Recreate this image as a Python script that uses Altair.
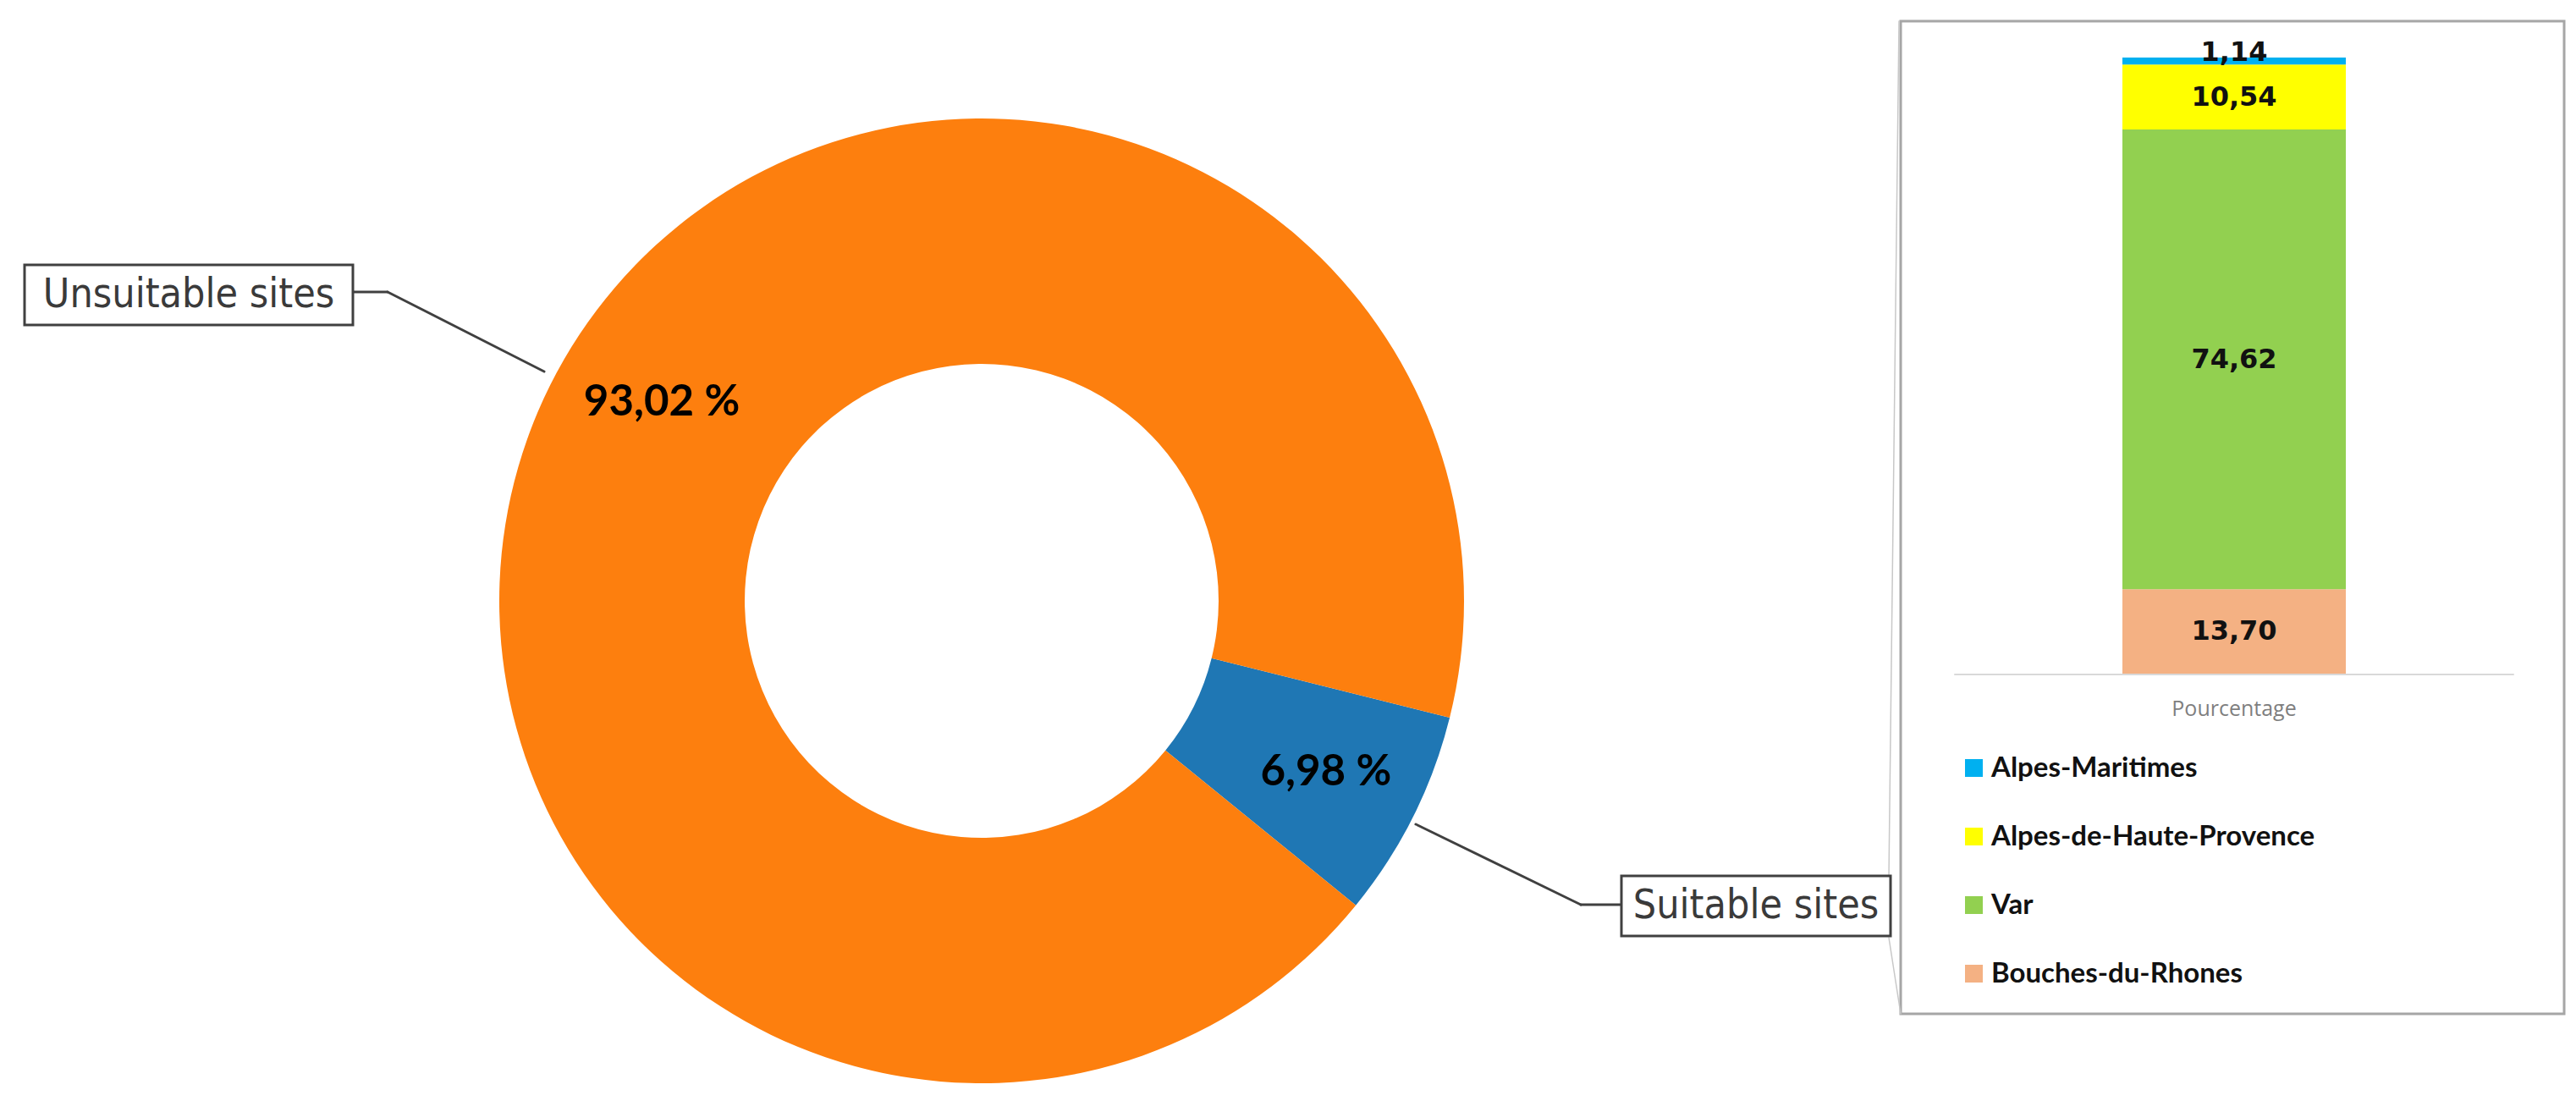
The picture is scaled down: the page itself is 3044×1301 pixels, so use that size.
import math
import altair as alt
import pandas as pd

# ---------------- data ----------------
donut_names = ["Suitable sites", "Unsuitable sites"]
donut_values = [6.98, 93.02]
donut_colors = ["#1F77B4", "#FD7F0E"]

bar_names = ["Bouches-du-Rhones", "Var", "Alpes-de-Haute-Provence", "Alpes-Maritimes"]
bar_values = [13.70, 74.62, 10.54, 1.14]
legend_order = ["Alpes-Maritimes", "Alpes-de-Haute-Provence", "Var", "Bouches-du-Rhones"]
legend_colors = ["#00B0F0", "#FFFF00", "#92D050", "#F4B183"]
axis_label = "Pourcentage"


def fr(v, pct=False):
    s = f"{v:.2f}".replace(".", ",")
    return s + " %" if pct else s


donut_df = pd.DataFrame({
    "name": donut_names,
    "value": donut_values,
    "order": list(range(len(donut_names))),
    "label": [fr(v, True) for v in donut_values],
})
bar_df = pd.DataFrame({
    "name": bar_names,
    "value": bar_values,
    "order": list(range(len(bar_names))),
    "label": [fr(v) for v in bar_values],
})
one = pd.DataFrame({"k": [0]})

M = 8  # page margin
W, H = 3044 - 2 * M, 1301 - 2 * M


def px(v):
    return alt.value(v - M)


# ---------------- donut ----------------
a0 = math.radians(104)
theta = alt.Theta("value:Q", stack=True,
                  scale=alt.Scale(domain=[0, 100], range=[a0, a0 + 2 * math.pi]))
cx, cy = 1160, 710

donut = alt.Chart(donut_df).mark_arc(outerRadius=570, innerRadius=280).encode(
    theta=theta,
    fill=alt.Fill("name:N", scale=alt.Scale(domain=donut_names, range=donut_colors), legend=None),
    order=alt.Order("order:Q"),
    x=px(cx), y=px(cy),
)
label_style = dict(radius=455, font="Lato", fontSize=51, fontWeight="bold", color="#000000",
                   baseline="middle")
donut_text_s = alt.Chart(donut_df).mark_text(**label_style).encode(
    theta=theta, order=alt.Order("order:Q"),
    text=alt.condition("datum.value < 50", "label:N", alt.value("")),
    x=px(cx), y=px(cy),
)
donut_text_u = alt.Chart(donut_df).mark_text(dx=29, dy=-31, **label_style).encode(
    theta=theta, order=alt.Order("order:Q"),
    text=alt.condition("datum.value >= 50", "label:N", alt.value("")),
    x=px(cx), y=px(cy),
)


# ---------------- helpers for annotations ----------------
def rule(x1, y1, x2, y2, color, width):
    return alt.Chart(one).mark_rule(color=color, strokeWidth=width, strokeCap="round").encode(
        x=px(x1), y=px(y1), x2=px(x2), y2=px(y2))


def box(x1, y1, x2, y2, stroke, sw):
    return alt.Chart(one).mark_rect(fill="white", stroke=stroke, strokeWidth=sw).encode(
        x=px(x1), y=px(y1), x2=px(x2), y2=px(y2))


def label(x, y, text, **kw):
    return alt.Chart(one).mark_text(**kw).encode(x=px(x), y=px(y), text=alt.value(text))


lead = "#404040"
box_font = "DejaVu Sans Condensed, Roboto, sans-serif"

panel = box(2246, 25, 3030, 1198, "#A6A6A6", 3)
conn1 = rule(2244, 25, 2232, 1036, "#C8C8C8", 1.5)
conn2 = rule(2232, 1108, 2246, 1198, "#C8C8C8", 1.5)

lead_u1 = rule(417, 345, 458, 345, lead, 3)
lead_u2 = rule(458, 345, 643, 439, lead, 3)
lead_s1 = rule(1673, 974, 1868, 1069, lead, 3)
lead_s2 = rule(1868, 1069, 1916, 1069, lead, 3)

box_u = box(29, 313, 417, 384, lead, 3)
txt_u = label(223, 349, "Unsuitable sites", font=box_font, fontSize=48, color="#3A3A3A",
              align="center", baseline="middle")
box_s = box(1916, 1035, 2234, 1106, lead, 3)
txt_s = label(2075, 1071, "Suitable sites", font=box_font, fontSize=48, color="#3A3A3A",
              align="center", baseline="middle")

# ---------------- stacked bar ----------------
yscale = alt.Scale(domain=[0, 100], range=[796 - M, 68 - M])
stacked = alt.Chart(bar_df).transform_stack(
    stack="value", as_=["v0", "v1"], groupby=[], sort=[alt.SortField("order", order="ascending")]
).transform_calculate(mid="(datum.v0 + datum.v1) / 2")

bar = stacked.mark_bar().encode(
    x=px(2508), x2=px(2772),
    y=alt.Y("v0:Q", scale=yscale, axis=None), y2="v1:Q",
    color=alt.Color("name:N", scale=alt.Scale(domain=legend_order, range=legend_colors),
                    legend=alt.Legend(title=None, orient="none", legendX=2316 - M, legendY=891 - M,
                                      symbolType="square", symbolSize=441, symbolStrokeWidth=0,
                                      labelFont="Lato", labelFontSize=33, labelFontWeight="bold",
                                      labelColor="#111111", labelOffset=4, rowPadding=47,
                                      padding=0, labelLimit=0)),
)
bar_font = dict(font="DejaVu Sans", fontSize=32, fontWeight="bold", color="#111111", align="center")
bar_text_big = stacked.transform_filter("datum.value >= 5").mark_text(
    baseline="middle", **bar_font
).encode(x=px(2640), y=alt.Y("mid:Q", scale=yscale, axis=None), text="label:N")
bar_text_small = stacked.transform_filter("datum.value < 5").mark_text(
    baseline="alphabetic", **bar_font
).encode(x=px(2640), y=alt.Y("mid:Q", scale=yscale, axis=None), text="label:N")

axis_line = rule(2310, 797, 2970, 797, "#D9D9D9", 2)
axis_txt = label(2640, 838, axis_label, font="Open Sans", fontSize=25, color="#7F7F7F",
                 align="center", baseline="middle")

chart = alt.layer(
    panel, conn1, conn2,
    bar, bar_text_big, bar_text_small, axis_line, axis_txt,
    donut, donut_text_s, donut_text_u,
    lead_u1, lead_u2, lead_s1, lead_s2,
    box_u, txt_u, box_s, txt_s,
).properties(
    width=W, height=H, padding=0,
    autosize=alt.AutoSizeParams(type="none"),
    background="white",
).configure_view(strokeWidth=0)

chart.save("out.html", embed_options={"renderer": "svg", "actions": False})
